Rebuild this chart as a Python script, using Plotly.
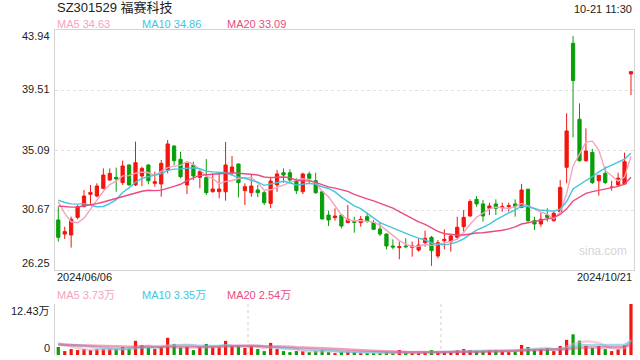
import plotly.graph_objects as go
import pandas as pd

title = "SZ301529 福赛科技"
stamp = "10-21 11:30"
date_labels = ["2024/06/06", "2024/10/21"]
price_ticks = [26.25, 30.67, 35.09, 39.51, 43.94]
vol_top = 12.43
ma_periods = [5, 10, 20]
ma_price_last = [34.63, 34.86, 33.09]   # values printed in the legend
ma_vol_last = [3.73, 3.35, 2.54]

opens = [29.94, 28.90, 28.83, 30.13, 30.92, 31.83, 31.70, 32.27, 32.88, 33.08,
         32.69, 33.99, 32.52, 33.18, 33.99, 32.64, 32.59, 33.62, 35.39, 34.41,
         32.52, 33.99, 33.08, 33.06, 32.02, 32.02, 32.02, 33.42, 34.06, 32.10,
         31.95, 32.15, 31.95, 31.16, 32.52, 33.42, 33.42, 32.81, 32.02, 33.33,
         32.83, 32.02, 30.30, 30.11, 30.30, 29.74, 29.81, 29.74, 30.18, 29.74,
         29.27, 28.90, 28.02, 27.90, 28.02, 27.92, 27.72, 28.26, 28.66, 27.28,
         28.41, 28.34, 28.66, 29.44, 30.23, 31.46, 31.12, 30.80, 31.12, 30.84,
         30.92, 31.12, 30.87, 32.20, 29.89, 29.64, 30.30, 29.89, 30.55, 33.82,
         42.96, 37.36, 34.31, 34.92, 32.83, 33.38, 32.34, 32.52, 32.59, 40.70]
highs = [30.92, 29.44, 30.18, 31.04, 32.15, 32.52, 32.64, 33.74, 33.74, 33.80,
         34.31, 34.04, 35.71, 33.87, 34.04, 33.50, 34.36, 35.83, 35.44, 34.97,
         34.16, 34.23, 33.62, 34.43, 33.37, 33.37, 35.68, 34.65, 34.11, 32.64,
         33.25, 32.52, 32.10, 33.13, 33.62, 33.74, 33.67, 33.01, 33.42, 33.50,
         33.42, 32.07, 30.62, 30.80, 30.35, 31.04, 30.18, 30.23, 30.48, 29.94,
         29.74, 28.95, 28.51, 28.34, 28.58, 28.34, 28.58, 29.15, 28.76, 28.46,
         29.25, 28.83, 30.18, 30.67, 31.46, 31.70, 31.41, 31.21, 31.46, 31.21,
         31.21, 31.46, 32.59, 32.25, 30.18, 30.48, 30.80, 30.55, 32.88, 37.80,
         43.50, 38.53, 36.69, 35.17, 33.25, 33.87, 32.83, 33.42, 34.90, 40.87]
lows = [28.34, 28.54, 27.90, 29.99, 30.87, 31.04, 31.61, 32.20, 32.83, 32.02,
        32.52, 32.47, 32.44, 32.44, 32.56, 32.39, 31.65, 33.37, 33.99, 33.01,
        31.85, 32.88, 32.27, 31.78, 31.95, 31.53, 31.36, 33.25, 31.61, 31.04,
        31.65, 31.61, 31.04, 30.80, 32.02, 32.69, 32.69, 31.85, 31.85, 32.64,
        31.85, 29.99, 29.49, 29.89, 29.32, 29.74, 29.00, 29.44, 29.74, 29.20,
        28.76, 27.77, 27.77, 27.04, 27.85, 27.23, 27.60, 27.97, 26.55, 27.11,
        27.77, 27.60, 28.51, 29.08, 30.18, 30.92, 29.81, 30.30, 30.30, 30.55,
        30.55, 30.18, 30.80, 29.69, 29.20, 29.44, 29.81, 29.81, 30.48, 32.64,
        36.03, 34.23, 34.23, 32.59, 31.73, 32.59, 32.10, 32.39, 32.52, 39.15]
closes = [28.66, 29.08, 29.99, 30.92, 31.70, 31.97, 32.44, 33.25, 33.37, 32.96,
          33.92, 32.52, 34.16, 33.74, 32.83, 32.76, 34.11, 35.54, 34.31, 33.13,
          34.11, 33.18, 33.50, 31.95, 32.22, 32.22, 33.99, 33.84, 32.69, 32.39,
          32.44, 31.95, 31.21, 32.81, 33.33, 33.25, 32.88, 32.10, 33.33, 33.01,
          31.95, 30.01, 29.94, 30.23, 29.49, 29.99, 29.76, 29.99, 29.89, 29.25,
          28.90, 28.02, 27.94, 27.97, 27.97, 28.02, 28.09, 28.58, 27.68, 28.26,
          28.51, 28.76, 29.40, 30.13, 31.29, 31.12, 30.23, 30.97, 30.80, 30.92,
          30.99, 30.92, 32.15, 29.89, 29.64, 29.99, 30.13, 30.43, 32.34, 36.50,
          40.21, 34.31, 35.02, 32.69, 33.23, 32.70, 32.35, 33.02, 34.23, 40.87]
# volume in 万 (10k)
volumes = [1.95, 0.95, 1.45, 1.20, 1.45, 1.20, 1.45, 1.45, 1.45, 1.45,
           1.95, 1.60, 3.45, 2.45, 1.80, 1.45, 1.95, 4.20, 2.70, 1.80,
           1.95, 1.20, 1.95, 2.70, 1.95, 1.95, 3.45, 2.20, 2.20, 1.70,
           2.20, 1.45, 0.95, 2.95, 1.45, 0.95, 0.70, 0.95, 0.95, 0.70,
           0.95, 1.20, 0.70, 0.45, 0.78, 0.78, 0.70, 0.45, 0.45, 0.45,
           0.45, 0.70, 0.45, 1.20, 0.52, 0.45, 0.45, 0.70, 1.20, 0.70,
           0.70, 0.70, 1.20, 1.45, 1.20, 0.95, 0.95, 1.20, 1.20, 0.95,
           0.70, 0.95, 2.45, 1.95, 1.20, 1.45, 1.70, 0.95, 2.20, 3.70,
           5.05, 3.50, 2.25, 1.70, 2.20, 1.45, 0.95, 1.40, 2.40, 12.43]
# closes / volumes before the window, estimated from where the MA lines start
prior_closes = [30.2, 30.5, 30.8, 30.4, 30.1, 30.6, 30.9, 30.7, 30.5, 30.7,
                30.8, 31.0, 31.1, 31.3, 33.3, 33.4, 33.1, 31.3, 30.0]
prior_volumes = [2.2, 2.5, 2.0, 2.4, 2.6, 2.1, 2.3, 2.8, 2.2, 2.5,
                 2.0, 2.6, 2.4, 2.2, 3.2, 3.6, 2.9, 3.4, 2.7]

RED = "#f2160d"
GREEN = "#0a9e0a"
MA_COLORS = ["#f5a3c0", "#45c3df", "#ec4a80"]
FONT = "Liberation Sans, Arial, Noto Sans CJK SC, sans-serif"

n = len(closes)
idx = list(range(n))
call = pd.Series(prior_closes + closes)
vall = pd.Series(prior_volumes + volumes)
ma = {k: call.rolling(k).mean().iloc[-n:].tolist() for k in ma_periods}
vma = {k: vall.rolling(k).mean().iloc[-n:].tolist() for k in ma_periods}
bar_colors = [RED if c >= o else GREEN for o, c in zip(opens, closes)]

fig = go.Figure()
fig.add_trace(go.Candlestick(
    x=idx, open=opens, high=highs, low=lows, close=closes,
    increasing=dict(line=dict(color=RED, width=1), fillcolor=RED),
    decreasing=dict(line=dict(color=GREEN, width=1), fillcolor=GREEN),
    whiskerwidth=0, hoverinfo="skip", xaxis="x", yaxis="y"))
for k, col in zip(ma_periods, MA_COLORS):
    fig.add_trace(go.Scatter(x=idx, y=ma[k], mode="lines",
                             line=dict(color=col, width=1.4),
                             hoverinfo="skip", xaxis="x", yaxis="y"))
fig.add_trace(go.Bar(x=idx, y=volumes, marker=dict(color=bar_colors, line=dict(width=0)),
                     width=0.5, hoverinfo="skip", xaxis="x2", yaxis="y2"))
for k, col in zip(ma_periods, MA_COLORS):
    fig.add_trace(go.Scatter(x=idx, y=vma[k], mode="lines",
                             line=dict(color=col, width=2.5), opacity=0.55,
                             hoverinfo="skip", xaxis="x2", yaxis="y2"))

xr = [-0.51, 89.47]
H = 325.0
fig.update_layout(
    width=640, height=360, autosize=False,
    margin=dict(l=55, r=6, t=30, b=5),
    paper_bgcolor="white", plot_bgcolor="white",
    showlegend=False, boxgap=0.28, hovermode=False,
    font=dict(family=FONT, size=11, color="#333"),
    xaxis=dict(range=xr, domain=[0, 1], anchor="y", showgrid=False, zeroline=False,
               showticklabels=False, showline=True, mirror=True, linecolor="#d4d4d4",
               linewidth=1, rangeslider=dict(visible=False), fixedrange=True),
    yaxis=dict(range=[price_ticks[0], price_ticks[-1]], domain=[85 / H, 1], anchor="x",
               tickvals=price_ticks[1:-1], showticklabels=False, showgrid=True,
               gridcolor="#e0e0e0", griddash="dot", gridwidth=1, zeroline=False,
               showline=True, mirror=True, linecolor="#d4d4d4", linewidth=1),
    xaxis2=dict(range=xr, domain=[0, 1], anchor="y2", showgrid=False, zeroline=False,
                showticklabels=False, showline=False),
    yaxis2=dict(range=[0, vol_top], domain=[0, 51 / H], anchor="x2",
                tickvals=[0, vol_top], showticklabels=False, showgrid=True,
                gridcolor="#d0d0d0", griddash="dot", gridwidth=1, zeroline=False,
                showline=True, linecolor="#d4d4d4", linewidth=1),
)

shapes = []
for fx in (1 / 3, 2 / 3):
    shapes.append(dict(type="line", xref="x2 domain", yref="y2 domain",
                       x0=fx, x1=fx, y0=0, y1=1,
                       line=dict(color="#d0d0d0", width=1, dash="dot"), layer="below"))
fig.update_layout(shapes=shapes)


def py(pix):
    return (355 - pix) / H


ann = []
ann.append(dict(text=title, x=0, y=py(8), xref="paper", yref="paper", xanchor="left",
                yanchor="middle", showarrow=False, font=dict(size=13, color="#222")))
ann.append(dict(text=stamp, x=1, y=py(9), xref="paper", yref="paper", xanchor="right",
                yanchor="middle", showarrow=False, font=dict(size=11, color="#222")))
legend_x = [0, 85 / 579, 170 / 579]
for k, col, lx, pv, vv in zip(ma_periods, MA_COLORS, legend_x, ma_price_last, ma_vol_last):
    ann.append(dict(text=f"MA{k} {pv:.2f}", x=lx, y=py(24), xref="paper",
                    yref="paper", xanchor="left", yanchor="middle", showarrow=False,
                    font=dict(size=11, color=col)))
    ann.append(dict(text=f"MA{k} {vv:.2f}万", x=lx, y=py(295), xref="paper",
                    yref="paper", xanchor="left", yanchor="middle", showarrow=False,
                    font=dict(size=11, color=col)))
shifts = {0: 7, 1: 1, 2: 0, 3: 1, 4: -6}
for i, v in enumerate(price_ticks):
    ann.append(dict(text=f"{v:.2f}", x=0, y=v, xref="paper", yref="y", xanchor="right",
                    yanchor="middle", xshift=-3, yshift=shifts[i], showarrow=False,
                    font=dict(size=11, color="#222")))
ann.append(dict(text=f"{vol_top:.2f}万", x=0, y=vol_top, xref="paper", yref="y2",
                xanchor="right", yanchor="middle", xshift=-3, yshift=-7, showarrow=False,
                font=dict(size=11, color="#222")))
ann.append(dict(text="0", x=0, y=0, xref="paper", yref="y2", xanchor="right",
                yanchor="middle", xshift=-3, yshift=7, showarrow=False,
                font=dict(size=11, color="#222")))
ann.append(dict(text=date_labels[0], x=0, y=py(277), xref="paper", yref="paper",
                xanchor="left", yanchor="middle", showarrow=False,
                font=dict(size=11, color="#222")))
ann.append(dict(text=date_labels[1], x=1, y=py(277), xref="paper", yref="paper",
                xanchor="right", yanchor="middle", showarrow=False,
                font=dict(size=11, color="#222")))
ann.append(dict(text="sina.com", x=(603 - 55) / 579, y=py(251), xref="paper", yref="paper",
                xanchor="center", yanchor="middle", showarrow=False,
                font=dict(size=12, color="#d6d6d6")))
fig.update_layout(annotations=ann)

fig.write_html("out.html", config={"displayModeBar": False, "staticPlot": True},
               post_script="document.body.style.margin='0';")
